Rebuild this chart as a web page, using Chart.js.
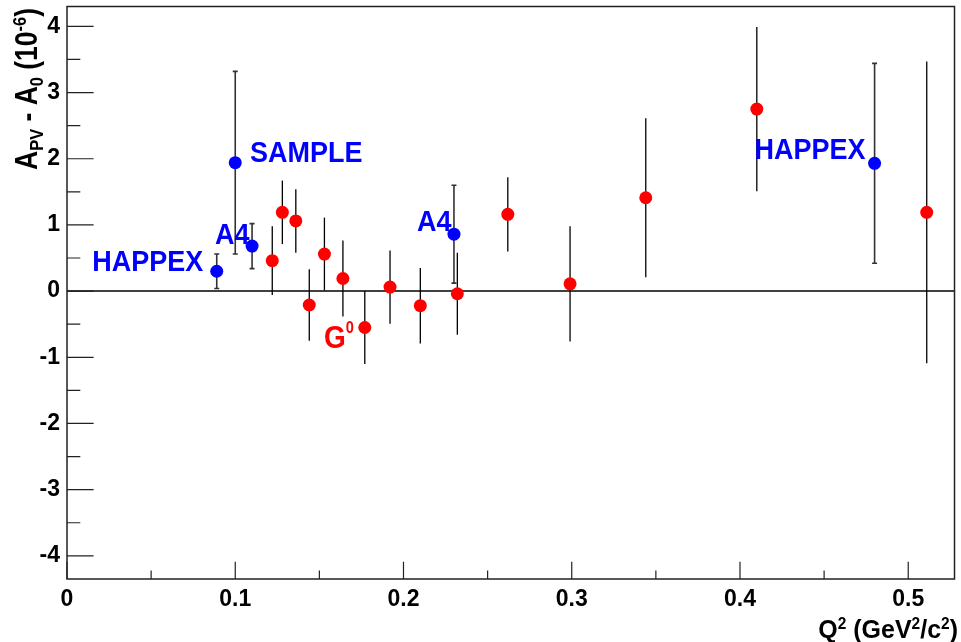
<!DOCTYPE html>
<html>
<head>
<meta charset="utf-8">
<script src="https://cdn.jsdelivr.net/npm/chart.js@4/dist/chart.umd.min.js"></script>
<style>
  html, body { margin: 0; padding: 0; background: #fff; }
  canvas { display: block; }
</style>
</head>
<body>
<canvas id="c" width="961" height="642"></canvas>
<script>
// G0 forward-angle measurements
const g0Q2  = [0.122, 0.128, 0.136, 0.144, 0.153, 0.164, 0.177, 0.192, 0.210, 0.232, 0.262, 0.299, 0.344, 0.410, 0.511];
const g0Val = [0.46, 1.19, 1.06, -0.21, 0.56, 0.19, -0.55, 0.06, -0.22, -0.04, 1.16, 0.11, 1.41, 2.75, 1.19];
const g0Err = [0.52, 0.48, 0.48, 0.54, 0.55, 0.575, 0.55, 0.555, 0.57, 0.62, 0.56, 0.87, 1.20, 1.24, 2.28];

// HAPPEX, SAMPLE and A4 measurements
const worldQ2  = [0.089, 0.100, 0.110, 0.230, 0.480];
const worldVal = [0.30, 1.94, 0.68, 0.86, 1.93];
const worldErr = [0.26, 1.38, 0.34, 0.74, 1.51];

// Axis ticks
const xTicks = [0, 0.1, 0.2, 0.3, 0.4, 0.5];
const xMinorTicks = [0.05, 0.15, 0.25, 0.35, 0.45];
const yTicks = [-4, -3, -2, -1, 0, 1, 2, 3, 4];
const yMinorTicks = [-3.5, -2.5, -1.5, -0.5, 0.5, 1.5, 2.5, 3.5];

// Experiment labels
const labelTexts = ['HAPPEX', 'A4', 'SAMPLE', 'A4', 'HAPPEX', 'G'];

const RED = '#ff0000';
const BLUE = '#0000ff';
const FONT = '"Liberation Sans", Arial, Helvetica, sans-serif';

const labelSpecs = [
  { text: labelTexts[0], x: 0.015,  y: 0.30,  color: BLUE },
  { text: labelTexts[1], x: 0.088,  y: 0.71,  color: BLUE },
  { text: labelTexts[2], x: 0.1087, y: 1.95,  color: BLUE },
  { text: labelTexts[3], x: 0.208,  y: 0.91,  color: BLUE },
  { text: labelTexts[4], x: 0.4086, y: 2.00,  color: BLUE },
  { text: labelTexts[5], x: 0.1527, y: -0.857, color: RED, sup: '0' }
];

function toPoints(xs, ys) { return xs.map((x, i) => ({ x: x, y: ys[i] })); }

// Draw a run of text segments with sub/superscripts; k stretches glyph height
function drawRich(ctx, segs, x, y, size, align, k) {
  k = k || 1;
  const parts = segs.map(s => {
    const fs = size * (s.scale || (s.sub || s.sup ? 0.62 : 1));
    ctx.font = 'bold ' + fs + 'px ' + FONT;
    return { s: s, fs: fs, w: ctx.measureText(s.t).width };
  });
  const total = parts.reduce((a, p) => a + p.w, 0);
  let cx = align === 'right' ? x - total : x;
  ctx.save();
  ctx.translate(0, y);
  ctx.scale(1, k);
  ctx.textAlign = 'left';
  ctx.textBaseline = 'alphabetic';
  parts.forEach(p => {
    ctx.font = 'bold ' + p.fs + 'px ' + FONT;
    let dy = 0;
    if (p.s.sup) dy = -size * (p.s.raise || 0.36);
    if (p.s.sub) dy = size * 0.2;
    ctx.fillText(p.s.t, cx, dy);
    cx += p.w;
  });
  ctx.restore();
}

const frame = {
  id: 'frame',
  beforeDatasetsDraw(chart) {
    const { ctx, chartArea: a, scales: { x, y } } = chart;
    ctx.save();
    // zero line
    ctx.strokeStyle = '#000';
    ctx.lineWidth = 1.5;
    const y0 = y.getPixelForValue(0);
    ctx.beginPath();
    ctx.moveTo(a.left, y0);
    ctx.lineTo(a.right, y0);
    ctx.stroke();

    // error bars
    chart.data.datasets.forEach(ds => {
      const cap = ds.capWidth || 0;
      ctx.strokeStyle = ds.errColor;
      ctx.lineWidth = ds.errWidth;
      ds.data.forEach((p, i) => {
        const e = ds.errors[i];
        const px = x.getPixelForValue(p.x);
        const yt = y.getPixelForValue(p.y + e);
        const yb = y.getPixelForValue(p.y - e);
        ctx.beginPath();
        ctx.moveTo(px, yt);
        ctx.lineTo(px, yb);
        if (cap) {
          ctx.moveTo(px - cap / 2, yt);
          ctx.lineTo(px + cap / 2, yt);
          ctx.moveTo(px - cap / 2, yb);
          ctx.lineTo(px + cap / 2, yb);
        }
        ctx.stroke();
      });
    });
    ctx.restore();
  },
  afterDatasetsDraw(chart) {
    const { ctx, chartArea: a, scales: { x, y } } = chart;
    ctx.save();
    // frame
    ctx.strokeStyle = '#222';
    ctx.lineWidth = 1.5;
    ctx.strokeRect(a.left, a.top, a.right - a.left, a.bottom - a.top);

    // tick marks drawn inward
    ctx.lineWidth = 1.2;
    const h = a.bottom - a.top, w = a.right - a.left;
    const xMaj = 0.03 * h, yMaj = 0.03 * w;
    ctx.beginPath();
    xTicks.forEach(v => { const px = x.getPixelForValue(v); ctx.moveTo(px, a.bottom); ctx.lineTo(px, a.bottom - xMaj); });
    xMinorTicks.forEach(v => { const px = x.getPixelForValue(v); ctx.moveTo(px, a.bottom); ctx.lineTo(px, a.bottom - xMaj / 2); });
    yTicks.forEach(v => { const py = y.getPixelForValue(v); ctx.moveTo(a.left, py); ctx.lineTo(a.left + yMaj, py); });
    yMinorTicks.forEach(v => { const py = y.getPixelForValue(v); ctx.moveTo(a.left, py); ctx.lineTo(a.left + yMaj / 2, py); });
    ctx.stroke();

    // experiment labels
    labelSpecs.forEach(l => {
      ctx.fillStyle = l.color;
      const segs = [{ t: l.text }];
      if (l.sup) segs.push({ t: l.sup, sup: true, scale: 0.52, raise: 0.46 });
      drawRich(ctx, segs, x.getPixelForValue(l.x), y.getPixelForValue(l.y), l.sup ? 28 : 27, 'left', 1.12);
    });

    // axis titles
    ctx.fillStyle = '#000';
    drawRich(ctx, [
      { t: 'Q' }, { t: '2', sup: true },
      { t: ' (GeV' }, { t: '2', sup: true },
      { t: '/c' }, { t: '2', sup: true },
      { t: ')' }
    ], 958, 638, 25, 'right', 1.05);

    ctx.translate(37, 8);
    ctx.rotate(-Math.PI / 2);
    drawRich(ctx, [
      { t: 'A' }, { t: 'PV', sub: true },
      { t: ' - A' }, { t: '0', sub: true },
      { t: ' (10' }, { t: '-6', sup: true },
      { t: ')' }
    ], 0, 0, 26.5, 'right', 1.15);
    ctx.restore();
  }
};

function fixPadding(s) {
  s.paddingTop = 0;
  s.paddingBottom = 0;
  s.paddingLeft = 0;
  s.paddingRight = 0;
}

new Chart(document.getElementById('c'), {
  type: 'scatter',
  data: {
    datasets: [
      {
        label: 'G0',
        data: toPoints(g0Q2, g0Val),
        errors: g0Err,
        errColor: '#000',
        errWidth: 1.3,
        capWidth: 0,
        pointRadius: 6.5,
        pointBackgroundColor: RED,
        pointBorderWidth: 0,
        pointBorderColor: RED
      },
      {
        label: 'World data',
        data: toPoints(worldQ2, worldVal),
        errors: worldErr,
        errColor: '#333',
        errWidth: 1.6,
        capWidth: 5,
        pointRadius: 6.5,
        pointBackgroundColor: BLUE,
        pointBorderWidth: 0,
        pointBorderColor: BLUE
      }
    ]
  },
  options: {
    responsive: false,
    animation: false,
    devicePixelRatio: 1,
    layout: { padding: { left: 0, top: 4, right: 4, bottom: 0 } },
    plugins: { legend: { display: false }, tooltip: { enabled: false } },
    scales: {
      x: {
        type: 'linear',
        min: 0,
        max: 0.5275,
        grid: { display: false, drawTicks: false },
        border: { display: false },
        afterBuildTicks: s => { s.ticks = xTicks.map(v => ({ value: v })); },
        afterFit: s => { s.height = 63; fixPadding(s); },
        ticks: {
          padding: 7,
          color: '#000',
          font: { family: FONT, size: 23, weight: 'bold' },
          maxRotation: 0,
          callback: v => String(v)
        }
      },
      y: {
        type: 'linear',
        min: -4.35,
        max: 4.3,
        grid: { display: false, drawTicks: false },
        border: { display: false },
        afterBuildTicks: s => { s.ticks = yTicks.map(v => ({ value: v })); },
        afterFit: s => { s.width = 67; fixPadding(s); },
        ticks: {
          padding: 7,
          color: '#000',
          font: { family: FONT, size: 23, weight: 'bold' },
          callback: v => String(v)
        }
      }
    }
  },
  plugins: [frame]
});
</script>
</body>
</html>
